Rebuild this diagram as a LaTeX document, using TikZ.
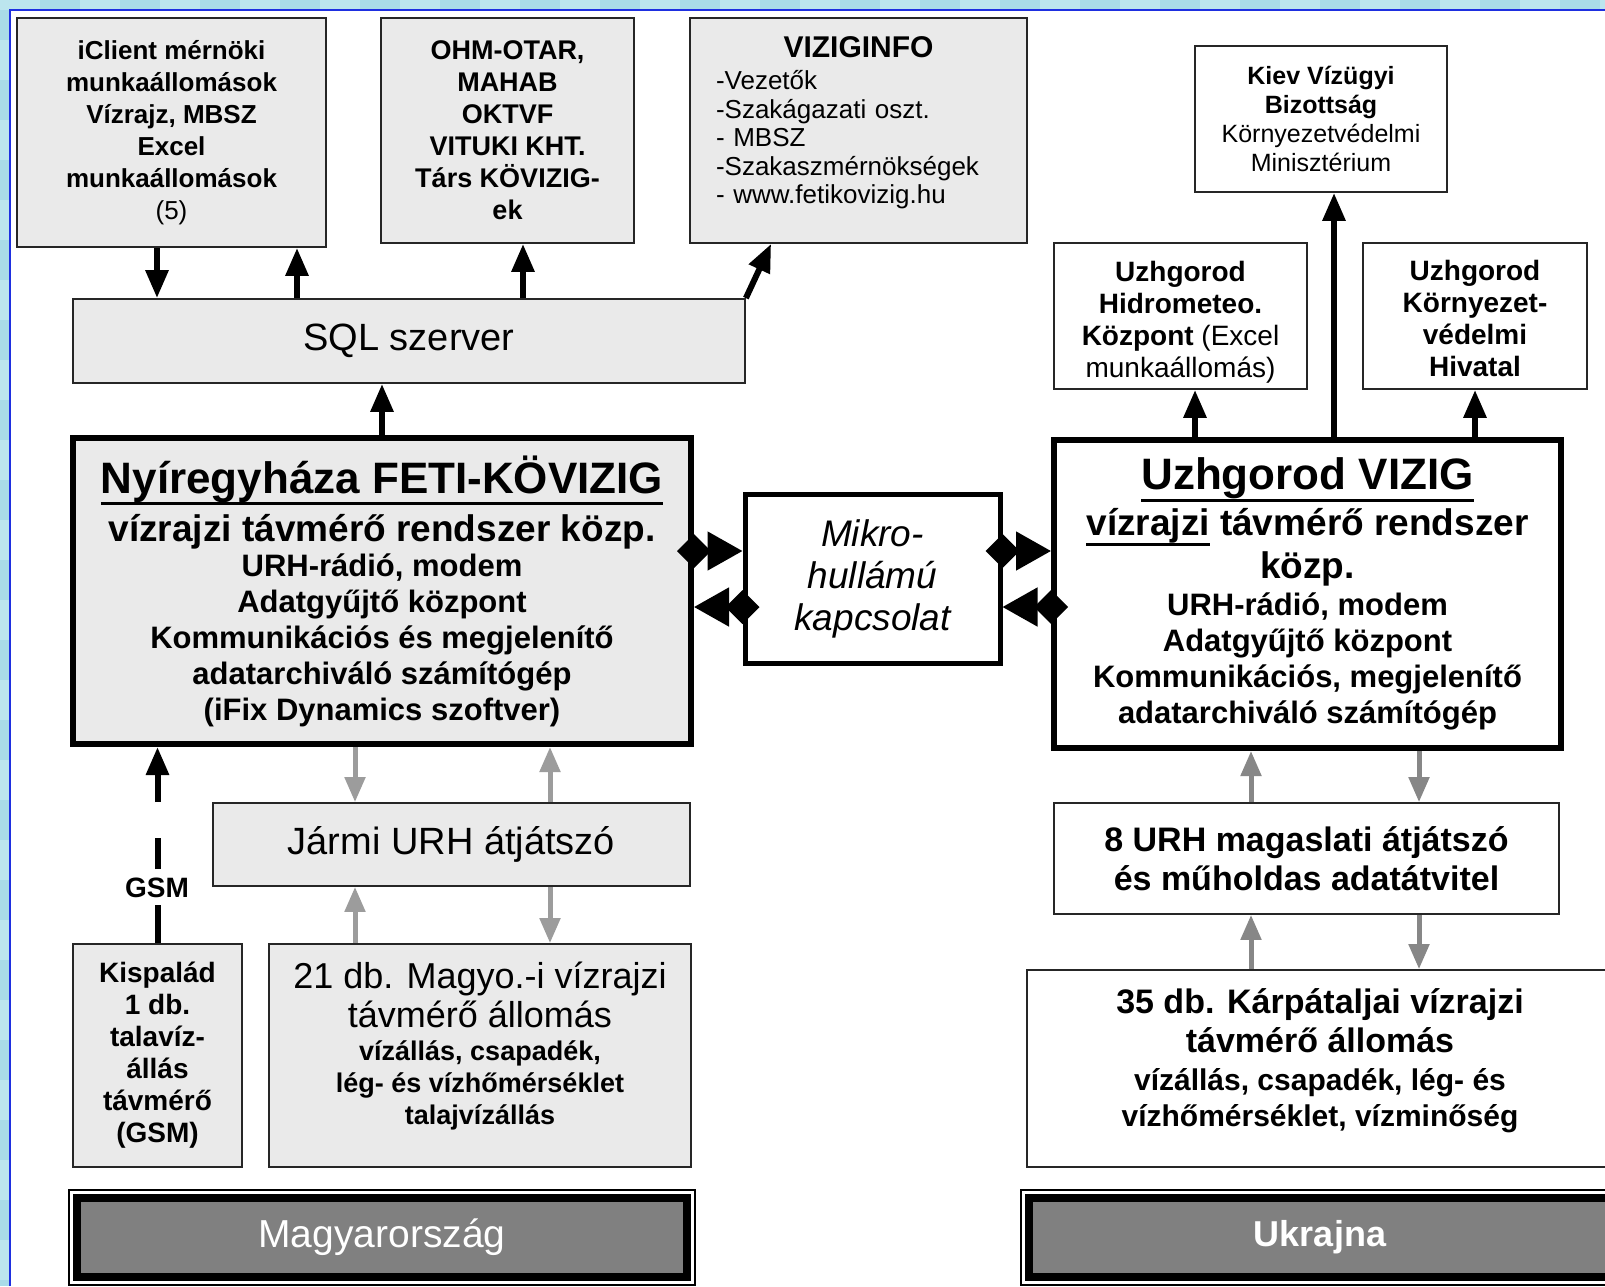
\documentclass[tikz,border=0pt]{standalone}
\usepackage{fontspec}
\setmainfont{Liberation Sans}
\usetikzlibrary{arrows.meta}

\definecolor{boxgray}{HTML}{EAEAEA}
\definecolor{bandgray}{HTML}{808080}
\definecolor{linkgray}{HTML}{9C9C9C}
\definecolor{linkdark}{HTML}{878787}
\definecolor{skyblue}{HTML}{A9DCE8}
\definecolor{skylight}{HTML}{BCE5EE}
\definecolor{rimblue}{HTML}{1E2FE0}

% font size in pt with its own line skip
\newcommand{\pxfont}[2]{\fontsize{#1}{#2}\selectfont}
% heavier underline: depth, thickness, text
\newcommand{\thickul}[3]{\setbox0\hbox{#3}\rlap{\rule[-#1]{\wd0}{#2}}\box0\relax}

\tikzset{
  box/.style={draw=black!85, line width=1.8pt, fill=boxgray, align=center, inner sep=0pt},
  wbox/.style={box, fill=white},
  bigbox/.style={box, draw=black, line width=6pt},
  band/.style={fill=bandgray, draw=black, line width=8pt, text=white, inner sep=0pt,
    preaction={draw=black, line width=18pt}, preaction={draw=white, line width=14pt}},
  blk/.style={line width=6pt, -{Triangle[length=28pt,width=22pt]}},
  glink/.style={draw=linkgray, line width=5pt, -{Triangle[length=25pt,width=20pt]}},
  dlink/.style={glink, draw=linkdark},
  dia/.style={line width=5pt, {Diamond[length=34pt,width=34pt]}-{Triangle[length=35pt,width=38pt]}, shorten <=-17pt}
}

\begin{document}
\begin{tikzpicture}[x=1pt,y=-1pt]
\useasboundingbox (0,0) rectangle (1605,1286);
\clip (0,0) rectangle (1605,1286);

% frame
\fill[skyblue] (0,0) rectangle (1605,1286);
\foreach \i in {0,2,...,40} \fill[skylight] (\i*40,0) rectangle ++(40,10);
\foreach \i in {1,3,...,32} \fill[skylight] (0,\i*40) rectangle ++(10,40);
\fill[white] (10,10) rectangle (1605,1286);
\draw[rimblue, line width=2pt] (10,1286) -- (10,10) -- (1605,10);

% top row
\node[box, minimum width=309pt, minimum height=229pt, font=\pxfont{26}{32}\bfseries] (iclient) at (171.5,132.5)
  {iClient mérnöki\\munkaállomások\\Vízrajz, MBSZ\\Excel\\munkaállomások\\{\mdseries (5)}};
\node[box, minimum width=253pt, minimum height=225pt, font=\pxfont{27}{32}\bfseries] (ohm) at (507.5,130.5)
  {OHM-OTAR,\\MAHAB\\OKTVF\\VITUKI KHT.\\Társ KÖVIZIG-\\ek};
\node[box, align=left, text width=285pt, minimum width=337pt, minimum height=225pt, font=\pxfont{26}{28.6}] (viz) at (858.5,130.5)
  {\makebox[285pt]{\pxfont{30}{32}\bfseries VIZIGINFO}\\[3pt]-Vezetők\\-Szakágazati oszt.\\- MBSZ\\-Szakaszmérnökségek\\- www.fetikovizig.hu\rule[-20pt]{0pt}{1pt}};
\node[wbox, minimum width=252pt, minimum height=146pt, font=\pxfont{25}{29}] (kiev) at (1321,119)
  {{\bfseries Kiev Vízügyi}\\{\bfseries Bizottság}\\Környezetvédelmi\\Minisztérium};
\node[wbox, minimum width=253pt, minimum height=146pt, font=\pxfont{28}{32}] (hidro) at (1180.5,316)
  {{\bfseries Uzhgorod}\rule{0pt}{32pt}\\{\bfseries Hidrometeo.}\\{\bfseries Központ} (Excel\\munkaállomás)};
\node[wbox, minimum width=224pt, minimum height=146pt, font=\pxfont{28}{32}\bfseries] (korny) at (1475,316)
  {Uzhgorod\rule{0pt}{26pt}\\Környezet-\\védelmi\\Hivatal};
\node[box, minimum width=672pt, minimum height=84pt, font=\pxfont{38}{40}] (sql) at (409,341) {SQL szerver};

% centres
\node[bigbox, minimum width=618pt, minimum height=306pt, font=\pxfont{31}{36}\bfseries] (main) at (382,591)
  {{\pxfont{44}{46}\thickul{12pt}{3pt}{Nyíregyháza FETI-KÖVIZIG}}\\[8pt]
   {\pxfont{37}{40}vízrajzi távmérő rendszer közp.}\\[-1pt]
   URH-rádió, modem\\Adatgyűjtő központ\\Kommunikációs és megjelenítő\\adatarchiváló számítógép\\(iFix Dynamics szoftver)};
\node[bigbox, fill=white, line width=5pt, minimum width=255pt, minimum height=169pt, font=\pxfont{37}{42}\itshape] (mikro) at (872.5,578.5)
  {Mikro-\\hullámú\\kapcsolat};
\node[bigbox, fill=white, minimum width=507pt, minimum height=308pt, font=\pxfont{31}{36}\bfseries] (uzh) at (1307.5,594)
  {{\pxfont{44}{46}\thickul{12pt}{3pt}{Uzhgorod VIZIG}}\\[6pt]
   {\pxfont{37}{40}\thickul{10pt}{2.5pt}{vízrajzi} távmérő rendszer}\\[5pt]
   {\pxfont{37}{40}közp.}\\[1pt]
   URH-rádió, modem\\Adatgyűjtő központ\\Kommunikációs, megjelenítő\\adatarchiváló számítógép};

% repeaters and stations
\node[box, minimum width=477pt, minimum height=83pt, font=\pxfont{38}{40}] (jarmi) at (451.5,844.5) {Jármi URH átjátszó};
\node[wbox, minimum width=505pt, minimum height=111pt, font=\pxfont{34}{39}\bfseries] (urh8) at (1306.5,858.5)
  {8 URH magaslati átjátszó\\és műholdas adatátvitel};
\node[box, minimum width=169pt, minimum height=223pt, font=\pxfont{28}{32}\bfseries] (kisp) at (157.5,1055.5)
  {Kispalád\\1 db.\\talavíz-\\állás\\távmérő\\(GSM)};
\node[box, minimum width=422pt, minimum height=223pt, font=\pxfont{27}{32}\bfseries] (db21) at (480,1055.5)
  {{\pxfont{36}{38}\mdseries 21 db. Magyo.-i vízrajzi}\\[4pt]
   {\pxfont{36}{38}\mdseries távmérő állomás}\\[1pt]
   vízállás, csapadék,\\lég- és vízhőmérséklet\\talajvízállás\rule[-24pt]{0pt}{1pt}};
\node[wbox, minimum width=586pt, minimum height=197pt, font=\pxfont{30}{36}\bfseries] (db35) at (1320,1068.5)
  {{\pxfont{34}{38}35 db. Kárpátaljai vízrajzi}\\[3pt]
   {\pxfont{34}{38}távmérő állomás}\\[2pt]
   vízállás, csapadék, lég- és\\vízhőmérséklet, vízminőség\rule[-22pt]{0pt}{1pt}};

% country bands
\node[band, minimum width=610pt, minimum height=79pt, font=\pxfont{39}{42}] (hu) at (382,1237.5) {Magyarország};
\node[band, minimum width=582pt, minimum height=79pt, font=\pxfont{36}{40}\bfseries] (ua) at (1320,1237.5) {Ukrajna};

% SQL links
\draw[blk] ([xshift=-14.5pt]iclient.south) -- ([xshift=-14.5pt]iclient.south |- sql.north);
\draw[blk] ([xshift=125.5pt]iclient.south |- sql.north) -- ([xshift=125.5pt]iclient.south);
\draw[blk] ([xshift=15.5pt]ohm.south |- sql.north) -- ([xshift=15.5pt]ohm.south);
\draw[blk] (sql.north east) -- ([xshift=82pt]viz.south west);
\draw[blk] (main.north) -- (main.north |- sql.south);

% Uzhgorod links
\draw[blk] ([xshift=26.5pt]uzh.north) -- ([xshift=26.5pt]uzh.north |- kiev.south);
\draw[blk] ([xshift=-112.5pt]uzh.north) -- ([xshift=-112.5pt]uzh.north |- hidro.south);
\draw[blk] ([xshift=167.5pt]uzh.north) -- ([xshift=167.5pt]uzh.north |- korny.south);

% microwave link
\coordinate (mwu) at ([yshift=27.5pt]mikro.west);
\coordinate (mwl) at ([yshift=-28.5pt]mikro.west);
\coordinate (meu) at ([yshift=27.5pt]mikro.east);
\coordinate (mel) at ([yshift=-28.5pt]mikro.east);
\draw[dia] (main.east |- mwu) -- (mwu);
\draw[dia] (mwl) -- (main.east |- mwl);
\draw[dia] (meu) -- (uzh.west |- meu);
\draw[dia] (uzh.west |- mel) -- (mel);

% radio links, Hungarian side
\draw[glink] ([xshift=-27pt]main.south) -- ([xshift=-27pt]main.south |- jarmi.north);
\draw[glink] ([xshift=168pt]main.south |- jarmi.north) -- ([xshift=168pt]main.south);
\draw[glink] ([xshift=-27pt]main.south |- db21.north) -- ([xshift=-27pt]main.south |- jarmi.south);
\draw[glink] ([xshift=168pt]main.south |- jarmi.south) -- ([xshift=168pt]main.south |- db21.north);

% radio links, Ukrainian side
\draw[dlink] ([xshift=-56.5pt]uzh.south |- urh8.north) -- ([xshift=-56.5pt]uzh.south);
\draw[dlink] ([xshift=111.5pt]uzh.south) -- ([xshift=111.5pt]uzh.south |- urh8.north);
\draw[dlink] ([xshift=-56.5pt]uzh.south |- db35.north) -- ([xshift=-56.5pt]uzh.south |- urh8.south);
\draw[dlink] ([xshift=111.5pt]uzh.south |- urh8.south) -- ([xshift=111.5pt]uzh.south |- db35.north);

% GSM
\draw[blk, dash pattern=on 38pt off 36pt on 31pt off 36pt on 80pt off 0pt] (kisp.north) -- (kisp.north |- main.south);
\node[font=\pxfont{28}{30}\bfseries] (gsm) at (157,888) {GSM};
\end{tikzpicture}
\end{document}
